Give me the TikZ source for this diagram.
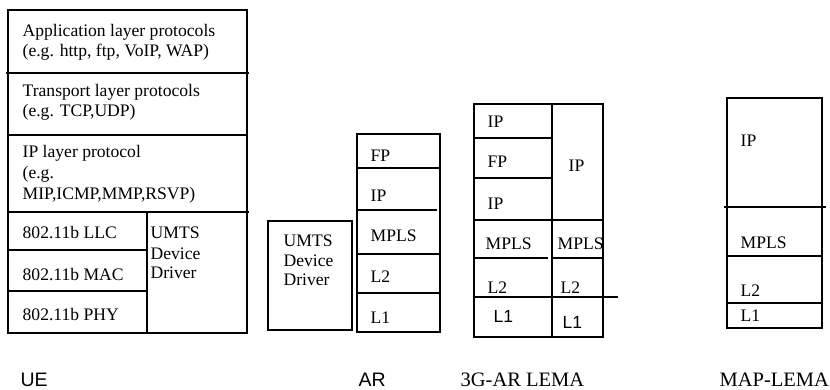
\documentclass[tikz,border=0pt]{standalone}
\usepackage{fontspec}
\setmainfont{Liberation Serif}
\newfontfamily\sansf{Liberation Sans}
\begin{document}
\begin{tikzpicture}[x=1pt,y=-1pt,line width=1.3pt,
  lbl/.style={anchor=base west,inner sep=0pt,font=\fontsize{17.6}{20}\selectfont},
  captxt/.style={anchor=base west,inner sep=0pt,font=\fontsize{20.5}{23}\selectfont},
  capsans/.style={anchor=base west,inner sep=0pt,font=\sansf\fontsize{17.5}{20}\selectfont},
  labsans/.style={anchor=base west,inner sep=0pt,font=\sansf\fontsize{19.5}{22}\selectfont}]
\useasboundingbox[fill=white] (0,0) rectangle (830,390);
% ---------- UE ----------
\draw (8,10) rectangle (247,333);
\draw (6,73) -- (249,73);
\draw (8,135) -- (247,135);
\draw (8,212) -- (249,212);
\draw (147,212) -- (147,333);
\draw (8,250) -- (147,250);
\draw (8,291) -- (147,291);
\node[lbl] (ue1) at (22,37) {Application layer protocols};
\node[lbl] (ue2) at (22,57) {(e.g. http, ftp, VoIP, WAP)};
\node[lbl] (ue3) at (22,97) {Transport layer protocols};
\node[lbl] (ue4) at (22,117) {(e.g. TCP,UDP)};
\node[lbl] (ue5) at (22,158) {IP layer protocol};
\node[lbl] (ue6) at (22,179) {(e.g.};
\node[lbl] (ue7) at (22,200) {MIP,ICMP,MMP,RSVP)};
\node[lbl] (ue8) at (22,239) {802.11b LLC};
\node[lbl] (ue9) at (22,280) {802.11b MAC};
\node[lbl] (ue10) at (22,320) {802.11b PHY};
\node[lbl] (ue11) at (150,239) {UMTS};
\node[lbl] (ue12) at (150,259) {Device};
\node[lbl] (ue13) at (150,278) {Driver};
% ---------- AR ----------
\draw (268,221) rectangle (352,330);
\node[lbl] (ar1) at (283,247) {UMTS};
\node[lbl] (ar2) at (283,266) {Device};
\node[lbl] (ar3) at (283,285) {Driver};
\draw (357,134) rectangle (440,332);
\draw (357,168) -- (440,168);
\draw (357,210) -- (437,210);
\draw (357,254) -- (440,254);
\draw (357,293) -- (440,293);
\node[lbl] (ar4) at (370,162) {FP};
\node[lbl] (ar5) at (370,202) {IP};
\node[lbl] (ar6) at (370,242) {MPLS};
\node[lbl] (ar7) at (370,282) {L2};
\node[lbl] (ar8) at (370,323) {L1};
% ---------- 3G-AR LEMA ----------
\draw (474,104) rectangle (603,337);
\draw (552,104) -- (552,337);
\draw (474,138) -- (552,138);
\draw (474,178) -- (552,178);
\draw (474,220) -- (603,220);
\draw (474,258) -- (548,258);
\draw (552,258) -- (603,258);
\draw (474,297) -- (618,297);
\node[lbl] (g1) at (487,128) {IP};
\node[lbl] (g2) at (487,168) {FP};
\node[lbl] (g3) at (487,210) {IP};
\node[lbl] (g4) at (485,250) {MPLS};
\node[lbl] (g5) at (487,293) {L2};
\node[capsans] (g6) at (493,322) {L1};
\node[lbl] (g7) at (568,172) {IP};
\node[lbl] (g8) at (557,250) {MPLS};
\node[lbl] (g9) at (560,293) {L2};
\node[capsans] (g10) at (562,328) {L1};
% ---------- MAP-LEMA ----------
\draw (727,98) rectangle (822,328);
\draw (724,207) -- (826,207);
\draw (727,256) -- (822,256);
\draw (727,303) -- (822,303);
\node[lbl] (m1) at (740,147) {IP};
\node[lbl] (m2) at (740,248) {MPLS};
\node[lbl] (m3) at (740,296) {L2};
\node[lbl] (m4) at (740,321) {L1};
% ---------- labels ----------
\node[labsans] (lue) at (20,386) {UE};
\node[labsans] (lar) at (358,386) {AR};
\node[captxt] (lg) at (460,386) {3G-AR LEMA};
\node[captxt] (lm) at (719,386) {MAP-LEMA};
\end{tikzpicture}
\end{document}
